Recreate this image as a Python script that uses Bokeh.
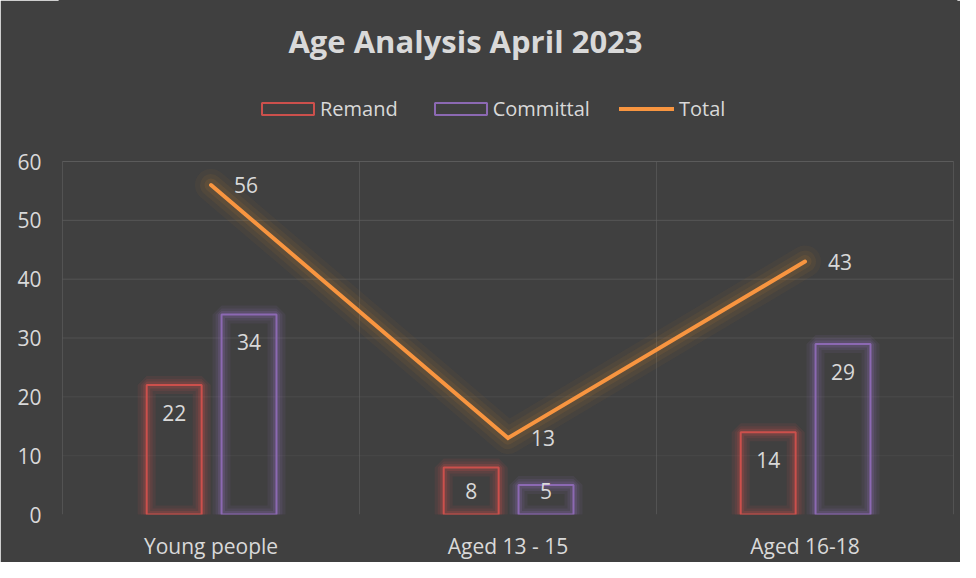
from bokeh.plotting import figure
from bokeh.models import FactorRange, Label, Legend, LegendItem, ColumnDataSource
from bokeh.transform import dodge
from bokeh.core.properties import value
from bokeh.embed import file_html
from bokeh.resources import INLINE

categories = ["Young people", "Aged 13 - 15", "Aged 16-18"]
remand = [22, 8, 14]
committal = [34, 5, 29]
total = [56, 13, 43]
y_ticks = [0, 10, 20, 30, 40, 50, 60]

BG = "#404040"
TXT = "#D9D9D9"
RED = "#CC504C"
PURPLE = "#8C69B3"
ORANGE = "#F89540"
FONT = "Open Sans"

W, H = 960, 562
FRAME_BOTTOM = 48          # px below the frame
PX_PER_UNIT = 353 / 60.0   # 0..60 spans 353 px
CAT_PX = 297.0             # width of one category
PAD = 3                    # px of frame beyond the outer gridlines
frame_h = H - FRAME_BOTTOM
y_top = frame_h / PX_PER_UNIT  # frame reaches the top so title/legend are inside it

p = figure(width=W, height=H,
           x_range=FactorRange(factors=categories, range_padding=PAD / CAT_PX,
                               range_padding_units="absolute"),
           y_range=(0, y_top), output_backend="svg", toolbar_location=None,
           background_fill_color=BG, border_fill_color=BG,
           outline_line_color=BG, outline_line_width=2,
           min_border_left=62 - PAD, min_border_right=7 - PAD, min_border_top=0,
           min_border_bottom=FRAME_BOTTOM)
p.xgrid.grid_line_color = None
p.ygrid.grid_line_color = None

# gridlines (fading toward the bottom)
n = len(categories)
p.segment(x0=[0] * (len(y_ticks) - 1), y0=y_ticks[1:], x1=[n] * (len(y_ticks) - 1),
          y1=y_ticks[1:], line_color="#686868",
          line_alpha=[0.08 + 0.6 * t / 60 for t in y_ticks[1:]], line_width=1)
p.segment(x0=list(range(n + 1)), y0=[y_ticks[0]] * (n + 1), x1=list(range(n + 1)),
          y1=[y_ticks[-1]] * (n + 1), line_color="#606060", line_alpha=0.6, line_width=1)

# data labels for bars (inside end, clamped for short bars)
def inside_end(vals):
    return [max(v - 28 / PX_PER_UNIT, 24 / PX_PER_UNIT) for v in vals]

src = ColumnDataSource(dict(cat=categories, remand=remand, committal=committal, total=total,
                            remand_txt=[str(v) for v in remand],
                            committal_txt=[str(v) for v in committal],
                            total_txt=[str(v) for v in total],
                            remand_ly=inside_end(remand),
                            committal_ly=inside_end(committal)))

BW = 0.185
xr = dodge("cat", -0.124, range=p.x_range)
xc = dodge("cat", 0.128, range=p.x_range)

# glow
for w, a in [(18, 0.1), (12, 0.13), (7, 0.2)]:
    p.vbar(x=xr, top="remand", width=BW, source=src, fill_alpha=0, line_color=RED,
           line_width=w, line_alpha=a)
    p.vbar(x=xc, top="committal", width=BW, source=src, fill_alpha=0, line_color=PURPLE,
           line_width=w, line_alpha=a)
r_rem = p.vbar(x=xr, top="remand", width=BW, source=src, fill_alpha=0, line_color=RED, line_width=2)
r_com = p.vbar(x=xc, top="committal", width=BW, source=src, fill_alpha=0, line_color=PURPLE, line_width=2)

for w, a in [(32, 0.05), (22, 0.07), (13, 0.1)]:
    p.line(x="cat", y="total", source=src, line_color="#D98830", line_width=w, line_alpha=a,
           line_join="round", line_cap="round")
r_tot = p.line(x="cat", y="total", source=src, line_color=ORANGE, line_width=4,
               line_join="miter", line_cap="round")

LBL = "21px"
p.text(x=xr, y="remand_ly", text="remand_txt", source=src, text_align="center",
       text_baseline="middle", text_color=TXT, text_font=value(FONT), text_font_size=LBL)
p.text(x=xc, y="committal_ly", text="committal_txt", source=src, text_align="center",
       text_baseline="middle", text_color=TXT, text_font=value(FONT), text_font_size=LBL)
p.text(x="cat", y="total", text="total_txt", source=src, text_align="left", x_offset=23,
       text_baseline="middle", text_color=TXT, text_font=value(FONT), text_font_size=LBL)

# axes
p.yaxis.ticker = y_ticks
for ax in (p.xaxis, p.yaxis):
    ax.axis_line_color = None
    ax.major_tick_line_color = None
    ax.minor_tick_line_color = None
    ax.major_tick_out = 0
    ax.major_tick_in = 0
    ax.major_label_text_color = TXT
    ax.major_label_text_font = FONT
    ax.major_label_text_font_size = "21px"
p.yaxis.major_label_standoff = 21 - PAD
p.xaxis.major_label_standoff = 17

# title (screen units are measured from the frame's bottom-left)
p.add_layout(Label(x=403 + PAD, y=474, x_units="screen", y_units="screen",
                   text="Age Analysis April 2023", text_align="center", text_baseline="middle",
                   text_font=FONT, text_font_size="31px", text_font_style="bold", text_color=TXT))

common = dict(orientation="horizontal", padding=0, margin=0, border_line_alpha=0,
              background_fill_alpha=0, label_text_color=TXT, label_text_font=FONT,
              label_text_font_size="20px")
legend_bars = Legend(items=[LegendItem(label="Remand", renderers=[r_rem]),
                            LegendItem(label="Committal", renderers=[r_com])],
                     location=(193 + PAD, 392), glyph_width=65, glyph_height=15,
                     label_standoff=0, spacing=30, **common)
legend_line = Legend(items=[LegendItem(label="Total", renderers=[r_tot])],
                     location=(557 + PAD, 392), glyph_width=55, glyph_height=15,
                     label_standoff=5, **common)
p.add_layout(legend_bars, "center")
p.add_layout(legend_line, "center")

open("out.html", "w").write(file_html(p, INLINE))
